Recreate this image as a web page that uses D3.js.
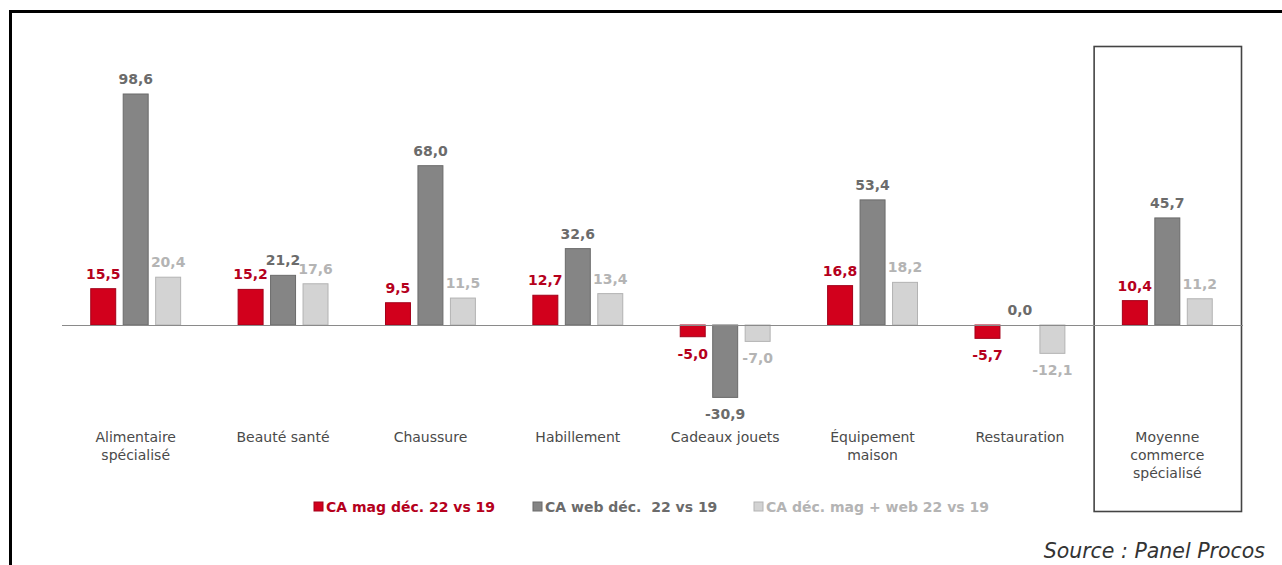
<!DOCTYPE html>
<html lang="fr">
<head>
<meta charset="utf-8">
<script src="https://cdn.jsdelivr.net/npm/d3@7"></script>
<style>
  html, body { margin: 0; padding: 0; background: #fff; }
  svg { display: block; }
  text { font-family: "DejaVu Sans", "Noto Sans", sans-serif; }
</style>
</head>
<body>
<svg id="chart" width="1282" height="565"></svg>
<script>
// Catégories (retours à la ligne marqués par \n)
const categories = [
  "Alimentaire\nspécialisé",
  "Beauté santé",
  "Chaussure",
  "Habillement",
  "Cadeaux jouets",
  "Équipement\nmaison",
  "Restauration",
  "Moyenne\ncommerce\nspécialisé"
];

// Évolution du chiffre d'affaires de décembre 2022 vs 2019 (%)
const seriesNames = [
  "CA mag déc. 22 vs 19",
  "CA web déc.  22 vs 19",
  "CA déc. mag + web 22 vs 19"
];
const caMag = [15.5, 15.2, 9.5, 12.7, -5.0, 16.8, -5.7, 10.4];
const caWeb = [98.6, 21.2, 68.0, 32.6, -30.9, 53.4, 0.0, 45.7];
const caTotal = [20.4, 17.6, 11.5, 13.4, -7.0, 18.2, -12.1, 11.2];

const sourceText = "Source : Panel Procos";

// Styles des séries
const fills   = ["#d2001c", "#858585", "#d3d3d3"];
const strokes = ["#a3001a", "#6a6a6a", "#b3b3b3"];
const labelColors = ["#b5001c", "#6b6b6b", "#b4b4b4"];

const svg = d3.select("#chart");

// Cadre extérieur (bord gauche et bord supérieur)
svg.append("path")
  .attr("d", "M10.5,565 V11.5 H1282")
  .attr("fill", "none")
  .attr("stroke", "#000")
  .attr("stroke-width", 3);

const rows = categories.map((c, i) => ({
  cat: c,
  values: [caMag[i], caWeb[i], caTotal[i]]
}));

const x0 = d3.scaleBand()
  .domain(categories)
  .range([62, 1241])
  .padding(0);

const x1 = d3.scaleBand()
  .domain(seriesNames)
  .range([0, x0.bandwidth()])
  .paddingInner(0.2)
  .paddingOuter(0.87);

const y = d3.scaleLinear()
  .domain([0, 98.6])
  .range([325, 94]);

// Format français : virgule décimale, trait d'union pour le signe moins
const frLocale = d3.formatLocale({
  decimal: ",", thousands: " ", grouping: [3], currency: ["", " €"], minus: "-"
});
const fmt = frLocale.format(".1f");

// Encadré de la moyenne
const lastCat = categories[categories.length - 1];
svg.append("rect")
  .attr("x", x0(lastCat) + 0.5)
  .attr("y", 46.5)
  .attr("width", x0.bandwidth())
  .attr("height", 465)
  .attr("fill", "none")
  .attr("stroke", "#444")
  .attr("stroke-width", 1.6);

const groups = svg.selectAll("g.group")
  .data(rows)
  .join("g")
  .attr("class", "group")
  .attr("transform", d => `translate(${x0(d.cat)},0)`);

// Barres
groups.selectAll("rect")
  .data(d => d.values.map((v, k) => ({ v, k })))
  .join("rect")
  .attr("x", d => x1(seriesNames[d.k]) + 0.5)
  .attr("y", d => Math.min(y(d.v), y(0)))
  .attr("width", x1.bandwidth() - 1)
  .attr("height", d => Math.abs(y(d.v) - y(0)))
  .attr("fill", d => fills[d.k])
  .attr("stroke", d => d.v === 0 ? "none" : strokes[d.k])
  .attr("stroke-width", 1);

// Étiquettes de valeurs
groups.selectAll("text.val")
  .data(d => d.values.map((v, k) => ({ v, k })))
  .join("text")
  .attr("class", "val")
  .attr("x", d => x1(seriesNames[d.k]) + x1.bandwidth() / 2)
  .attr("y", d => d.v >= 0 ? y(d.v) - 10 : y(d.v) + 22)
  .attr("text-anchor", "middle")
  .attr("font-size", 14)
  .attr("font-weight", "bold")
  .attr("fill", d => labelColors[d.k])
  .text(d => fmt(d.v));

// Ligne de base (axe horizontal)
svg.append("line")
  .attr("x1", x0.range()[0])
  .attr("x2", x0.range()[1] + 2)
  .attr("y1", y(0) + 0.5)
  .attr("y2", y(0) + 0.5)
  .attr("stroke", "#8a8a8a")
  .attr("stroke-width", 1.2);

// Libellés de catégories
const xAxis = svg.append("g").attr("class", "cat-labels");
categories.forEach(c => {
  const t = xAxis.append("text")
    .attr("x", x0(c) + x0.bandwidth() / 2)
    .attr("y", 442)
    .attr("text-anchor", "middle")
    .attr("font-size", 14)
    .attr("fill", "#4a4a4a");
  c.split("\n").forEach((line, i) => {
    t.append("tspan")
      .attr("x", x0(c) + x0.bandwidth() / 2)
      .attr("dy", i === 0 ? 0 : 18)
      .text(line);
  });
});

// Légende
const legendX = [314, 533, 754];
const legend = svg.append("g").attr("class", "legend");
seriesNames.forEach((name, k) => {
  legend.append("rect")
    .attr("x", legendX[k])
    .attr("y", 502)
    .attr("width", 9)
    .attr("height", 9)
    .attr("fill", fills[k])
    .attr("stroke", strokes[k]);
  legend.append("text")
    .attr("x", legendX[k] + 12)
    .attr("y", 512)
    .attr("font-size", 14)
    .attr("font-weight", "bold")
    .attr("fill", labelColors[k])
    .attr("xml:space", "preserve")
    .style("white-space", "pre")
    .text(name);
});

// Source
svg.append("text")
  .attr("x", 1265)
  .attr("y", 558)
  .attr("text-anchor", "end")
  .attr("font-size", 20.5)
  .attr("font-style", "italic")
  .attr("fill", "#333")
  .text(sourceText);
</script>
</body>
</html>
